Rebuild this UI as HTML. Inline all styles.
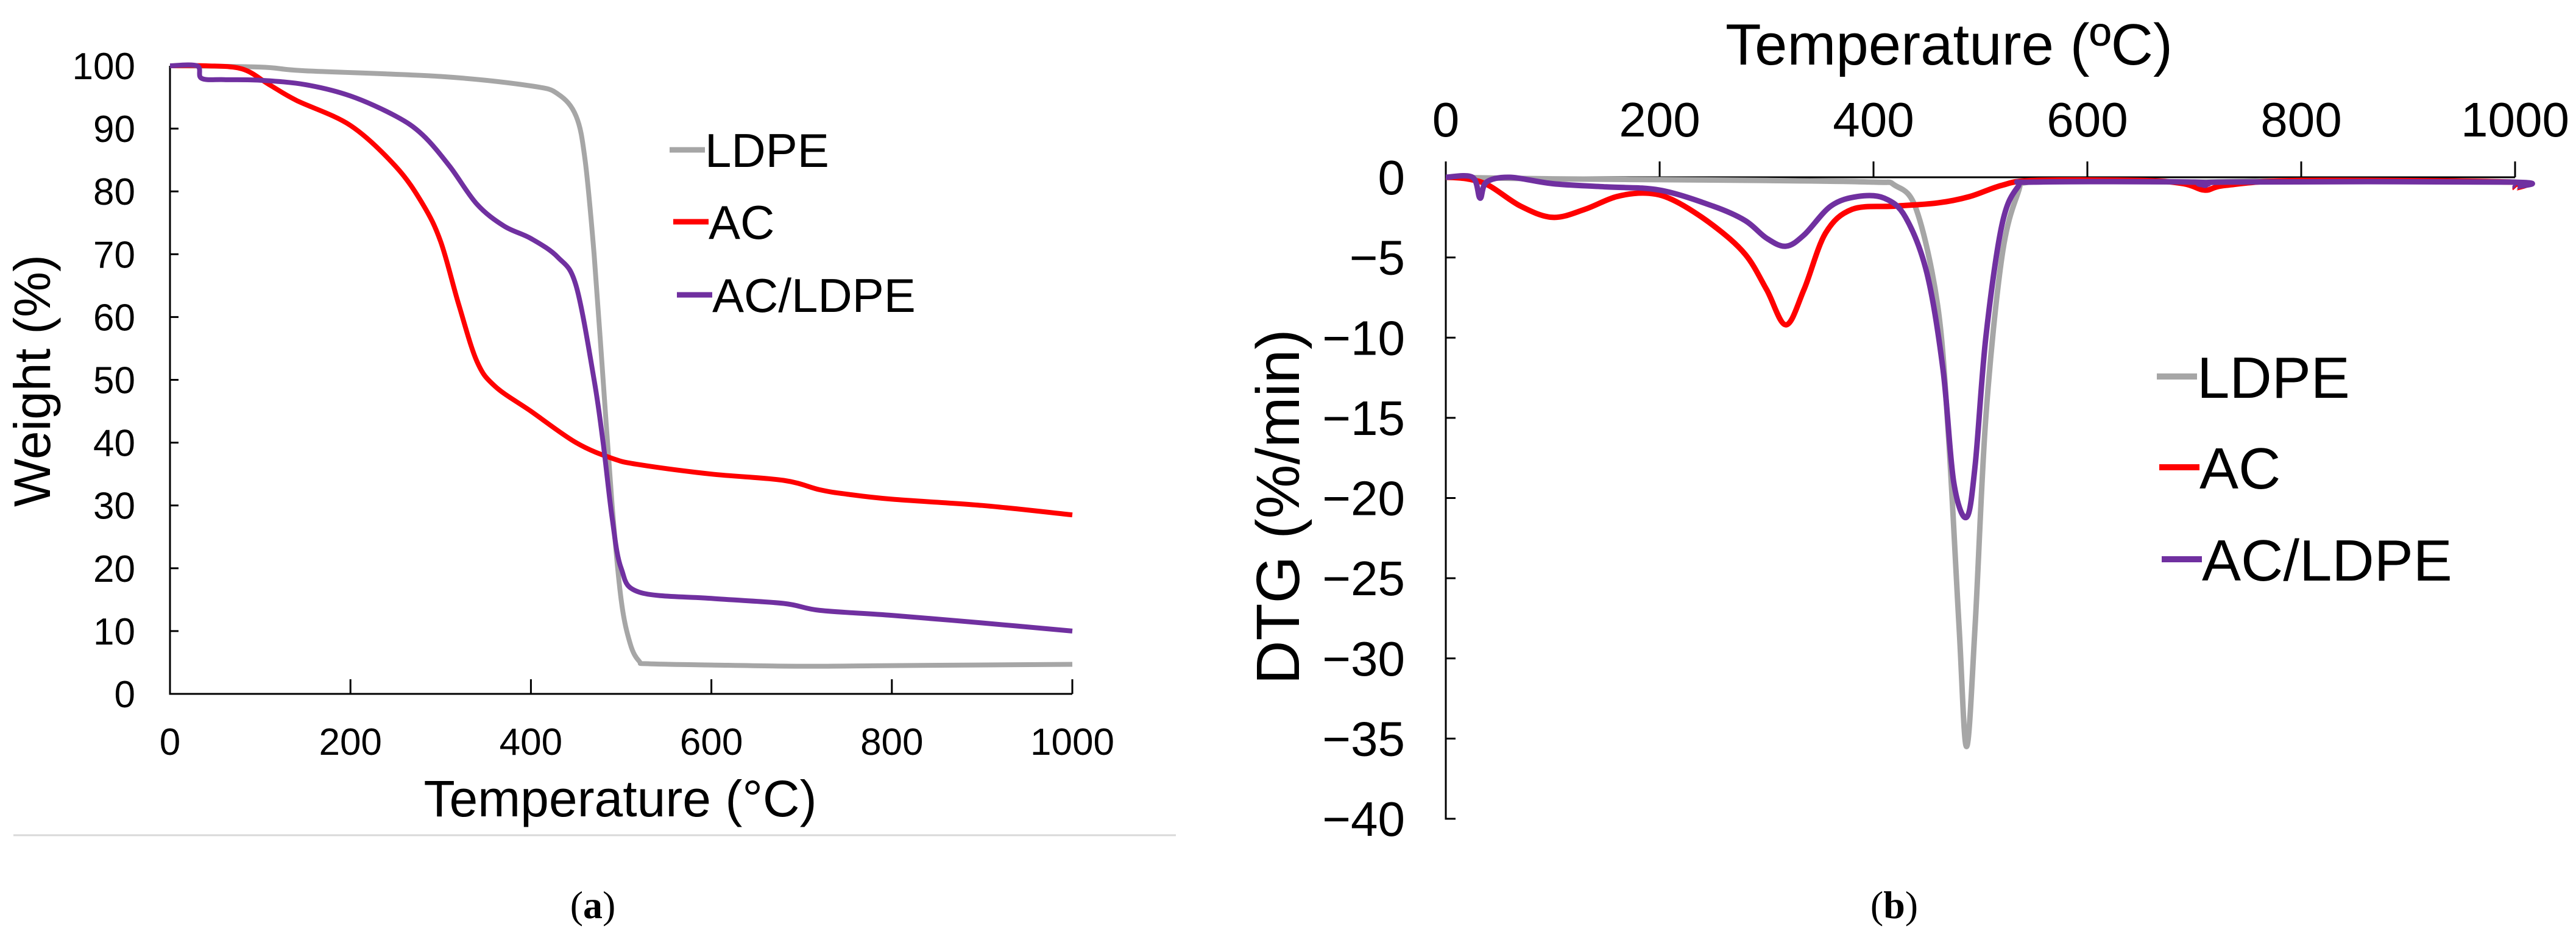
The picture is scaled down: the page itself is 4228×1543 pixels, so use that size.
<!DOCTYPE html>
<html><head><meta charset="utf-8"><style>
html,body{margin:0;padding:0;background:#fff;}
svg{display:block;font-family:"Liberation Sans",sans-serif;}
</style></head><body>
<svg id="fig" width="4228" height="1543" viewBox="0 0 4228 1543">
<line x1="22" y1="1371" x2="1930" y2="1371" stroke="#d9d9d9" stroke-width="3"/>
<g id="chartA"></g>
<g id="chartB"></g>
<text x="973" y="1507" font-family="Liberation Serif,serif" font-size="64" text-anchor="middle">(<tspan font-weight="bold">a</tspan>)</text>
<text x="3109" y="1507" font-family="Liberation Serif,serif" font-size="64" text-anchor="middle">(<tspan font-weight="bold">b</tspan>)</text>
</svg>
<script>
const NS="http://www.w3.org/2000/svg";
// ---- data: chart A (TGA)
const aXTicks=[0,200,400,600,800,1000];
const aYTicks=[0,10,20,30,40,50,60,70,80,90,100];
const aLdpeT=[0,100,150,300,400,430,450,460,470,480,490,500,510,520,530,600,700,800,1000];
const aLdpeW=[100,99.8,99.2,98.3,96.8,95.5,92,85,70,50,30,15,8,5.2,4.8,4.6,4.4,4.5,4.7];
const aAcT=[0,40,80,110,140,200,250,280,300,320,340,360,400,450,490,520,600,680,720,750,800,900,1000];
const aAcW=[100,100,99.5,97,94.5,90.5,84,78,72,62,53,49,45,40,37.5,36.5,35,34,32.5,31.8,31,30,28.5];
const aMixT=[0,30,35,60,100,150,200,250,280,310,340,370,400,430,450,470,480,490,500,520,600,680,720,800,900,1000];
const aMixW=[100,100,98,97.8,97.7,97,95.2,92,89,84,78,74.5,72.5,69.5,65,50,40,28,20,16.2,15.2,14.4,13.3,12.5,11.3,10];
// ---- data: chart B (DTG)
const bXTicks=[0,200,400,600,800,1000];
const bYTicks=[0,-5,-10,-15,-20,-25,-30,-35,-40];
const bLdpeT=[0,100,200,300,400,420,440,460,470,480,487,495,505,520,535,545,600,700,800,1000];
const bLdpeD=[0,-0.1,-0.15,-0.2,-0.3,-0.5,-2,-8,-16,-28,-35.5,-28,-15,-5,-1,-0.3,-0.2,-0.3,-0.2,-0.3];
const bAcT=[0,20,40,70,100,130,160,190,215,250,280,300,318,335,355,380,420,460,490,520,550,650,690,710,730,800,995,1000];
const bAcD=[0,-0.1,-0.5,-1.8,-2.5,-2,-1.2,-1,-1.5,-3,-4.8,-7,-9.2,-7,-3.5,-2,-1.8,-1.6,-1.2,-0.5,-0.2,-0.2,-0.4,-0.8,-0.5,-0.2,-0.3,-0.7];
const bMixT=[0,25,32,38,60,100,150,200,250,280,300,318,335,360,385,410,430,450,465,475,487,495,505,520,535,550,700,710,730,995,1000];
const bMixD=[0,0,-1.3,-0.3,0,-0.4,-0.6,-0.8,-1.8,-2.7,-3.8,-4.3,-3.6,-1.8,-1.2,-1.3,-2.5,-6,-12,-19,-21.2,-18,-10,-3,-0.6,-0.3,-0.3,-0.5,-0.3,-0.3,-0.6];

function el(tag,attrs,parent,txt){const e=document.createElementNS(NS,tag);for(const k in attrs)e.setAttribute(k,attrs[k]);if(txt!==undefined)e.textContent=txt;parent.appendChild(e);return e;}
function smooth(pts){let d="M"+pts[0][0]+","+pts[0][1];for(let i=0;i<pts.length-1;i++){const p0=pts[Math.max(0,i-1)],p1=pts[i],p2=pts[i+1],p3=pts[Math.min(pts.length-1,i+2)];const c1=[p1[0]+(p2[0]-p0[0])/6,p1[1]+(p2[1]-p0[1])/6],c2=[p2[0]-(p3[0]-p1[0])/6,p2[1]-(p3[1]-p1[1])/6];d+=" C"+c1[0].toFixed(1)+","+c1[1].toFixed(1)+" "+c2[0].toFixed(1)+","+c2[1].toFixed(1)+" "+p2[0].toFixed(1)+","+p2[1].toFixed(1);}return d;}
const GRAY="#a6a6a6",RED="#ff0000",PURP="#7030a0";

// Chart A
(function(){
const g=document.getElementById("chartA");
const L=279,R=1760,T=108,B=1139;
const xs=v=>L+(v/1000)*(R-L), ys=v=>B-(v/100)*(B-T);
let ax=el("path",{d:`M${L},${T} L${L},${B} L${R},${B}`,fill:"none",stroke:"#000","stroke-width":3},g);


aXTicks.forEach(v=>{const x=xs(v);
 const t=el("line",{x1:x,y1:B,x2:x,y2:B-24,stroke:"#000","stroke-width":3},g);
 
 
 const l=el("text",{x:x,y:B+100,"font-size":62,"text-anchor":"middle"},g,String(v));
 
 });
aYTicks.forEach(v=>{const y=ys(v);
 const t=el("line",{x1:L,y1:y,x2:L+14,y2:y,stroke:"#000","stroke-width":3},g);
 
 
 const l=el("text",{x:222,y:y+22,"font-size":62,"text-anchor":"end"},g,String(v));
 
 });
const xt=el("text",{x:1018,y:1340,"font-size":84,"text-anchor":"middle"},g,"Temperature (°C)");


const yt=el("text",{x:0,y:0,"font-size":84,"text-anchor":"middle",transform:"translate(82,625) rotate(-90)"},g,"Weight (%)");


[[aLdpeT,aLdpeW,GRAY,"ldpe"],[aAcT,aAcW,RED,"ac"],[aMixT,aMixW,PURP,"ac-ldpe"]].forEach(s=>{
 const p=el("path",{d:smooth(s[0].map((t,i)=>[xs(t),ys(s[1][i])])),fill:"none",stroke:s[2],"stroke-width":8,"stroke-linejoin":"round"},g);
 
 });
[["LDPE",GRAY,246],["AC",RED,364],["AC/LDPE",PURP,484]].forEach((s,i)=>{
 const lx=1099+i*6;
 const ln=el("line",{x1:lx,y1:s[2],x2:lx+58,y2:s[2],stroke:s[1],"stroke-width":9},g);
 
 
 const tx=el("text",{x:lx+58,y:s[2]+28,"font-size":78},g,s[0]);
 
 });
})();

// Chart B
(function(){
const g=document.getElementById("chartB");
const L=2373,R=4128,T=291,B=1344;
const xs=v=>L+(v/1000)*(R-L), ys=v=>T+(-v/40)*(B-T);
const ax=el("path",{d:`M${L+12},${B} L${L},${B} L${L},${T} L${R},${T}`,fill:"none",stroke:"#000","stroke-width":3},g);


bXTicks.forEach(v=>{const x=xs(v);
 const t=el("line",{x1:x,y1:T,x2:x,y2:T-26,stroke:"#000","stroke-width":3},g);
 
 
 const l=el("text",{x:x,y:224,"font-size":80,"text-anchor":"middle"},g,String(v));
 
 });
bYTicks.forEach(v=>{const y=ys(v);
 const t=el("line",{x1:L,y1:y,x2:L+16,y2:y,stroke:"#000","stroke-width":3},g);
 
 
 const l=el("text",{x:2306,y:y+28,"font-size":80,"text-anchor":"end"},g,v<0?"\u2212"+(-v):String(v));
 
 });
const xt=el("text",{x:3199,y:106,"font-size":96,"text-anchor":"middle"},g,"Temperature (ºC)");


const yt=el("text",{x:0,y:0,"font-size":100,"text-anchor":"middle",transform:"translate(2132,832) rotate(-90)"},g,"DTG (%/min)");


[[bLdpeT,bLdpeD,GRAY,"ldpe"],[bAcT,bAcD,RED,"ac"],[bMixT,bMixD,PURP,"ac-ldpe"]].forEach(s=>{
 const p=el("path",{d:smooth(s[0].map((t,i)=>[xs(t),ys(s[1][i])])),fill:"none",stroke:s[2],"stroke-width":9,"stroke-linejoin":"round"},g);
 
 });
[["LDPE",GRAY,618],["AC",RED,767],["AC/LDPE",PURP,918]].forEach((s,i)=>{
 const lx=3540+i*4;
 const ln=el("line",{x1:lx,y1:s[2],x2:lx+66,y2:s[2],stroke:s[1],"stroke-width":10},g);
 
 
 const tx=el("text",{x:lx+66,y:s[2]+35,"font-size":96},g,s[0]);
 
 });
})();
</script>
</body></html>
